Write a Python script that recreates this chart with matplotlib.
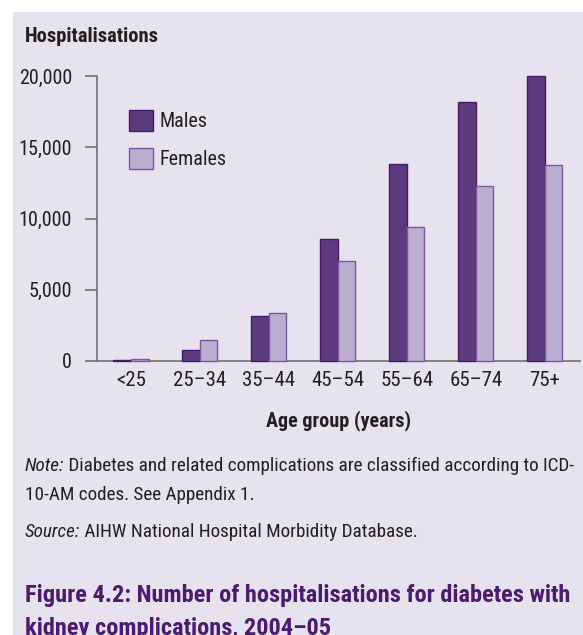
import matplotlib
matplotlib.use('Agg')
import matplotlib.pyplot as plt
from matplotlib import font_manager
from matplotlib.patches import Rectangle, Patch
import numpy as np

# Data
age_groups = ['<25', '25–34', '35–44', '45–54', '55–64', '65–74', '75+']
males = [80, 790, 3190, 8550, 13830, 18200, 19980]
females = [160, 1500, 3350, 7050, 9420, 12280, 13730]
y_ticks = [0, 5000, 10000, 15000, 20000]

# Pick a narrow font if there is one
font = 'DejaVu Sans'
for name in ['Liberation Sans Narrow', 'Roboto Condensed', 'Open Sans Condensed']:
    try:
        font_manager.findfont(font_manager.FontProperties(family=name), fallback_to_default=False)
        font = name
        break
    except Exception:
        pass
plt.rcParams['font.family'] = [font, 'DejaVu Sans']

bg = '#e6e2ee'
male_color = '#5c3b7d'
male_edge = '#46196b'
female_color = '#b9aed0'
female_edge = '#7c56a3'
text_color = '#231f20'
title_color = '#4b1a72'
axis_color = '#707070'

W, H = 583, 635
fig = plt.figure(figsize=(W / 100, H / 100), dpi=100, facecolor='white')
fig.patches.append(Rectangle((13 / W, 0), 1 - 13 / W, 1 - 12 / H, transform=fig.transFigure,
                             facecolor=bg, edgecolor='none', zorder=-10))

ax = fig.add_axes([97 / W, 1 - 361 / H, (580 - 97) / W, (361 - 76) / H])
ax.set_facecolor('none')

x = np.arange(len(age_groups))
width = 0.254
ax.bar(x - width / 2, males, width, color=male_color, edgecolor=male_edge, linewidth=1.0,
       label='Males', clip_on=False, zorder=3)
ax.bar(x + width / 2, females, width, color=female_color, edgecolor=female_edge, linewidth=1.0,
       label='Females', clip_on=False, zorder=3)

ax.set_xlim(-0.493, 6.51)
ax.set_ylim(0, 20000)
ax.set_yticks(y_ticks)
ax.set_yticklabels([f'{v:,}' for v in y_ticks])
ax.set_xticks(x)
ax.set_xticklabels(age_groups)
ax.tick_params(axis='y', direction='out', length=9, width=1.2, color=axis_color,
               labelsize=14.5, labelcolor=text_color, pad=9)
ax.tick_params(axis='x', length=0, labelsize=15, labelcolor=text_color, pad=7)

for spine in ['top', 'right']:
    ax.spines[spine].set_visible(False)
for spine in ['left', 'bottom']:
    ax.spines[spine].set_color(axis_color)
    ax.spines[spine].set_linewidth(1.2)

ax.set_xlabel('Age group (years)', fontsize=14.5, fontweight='bold', color=text_color, labelpad=15)

handles = [Patch(facecolor=male_color, edgecolor=male_edge, label='Males'),
           Patch(facecolor=female_color, edgecolor=female_edge, label='Females')]
ax.legend(handles=handles, loc='upper left', bbox_to_anchor=(129 / W, 1 - 110 / H),
          bbox_transform=fig.transFigure, frameon=False, fontsize=14.5, borderpad=0,
          borderaxespad=0, handlelength=1.2, handleheight=1.25, handletextpad=0.3,
          labelspacing=0.8, labelcolor=text_color)

fig.text(25 / W, 1 - 37 / H, 'Hospitalisations', fontsize=14.8, fontweight='bold',
         color=text_color, ha='left', va='center')

# Note and source lines with italic lead-ins
def lead_line(y, lead, rest):
    t = fig.text(25 / W, 1 - y / H, lead, fontsize=13.8, fontstyle='italic',
                 color=text_color, ha='left', va='baseline')
    ax.annotate(' ' + rest, xy=(1, 0), xycoords=t, fontsize=13.8, color=text_color,
                ha='left', va='bottom', annotation_clip=False)

lead_line(471, 'Note:', 'Diabetes and related complications are classified according to ICD-')
fig.text(25 / W, 1 - 500 / H, '10-AM codes. See Appendix 1.', fontsize=13.8,
         color=text_color, ha='left', va='baseline')
lead_line(537, 'Source:', 'AIHW National Hospital Morbidity Database.')

fig.text(25 / W, 1 - 602 / H, 'Figure 4.2: Number of hospitalisations for diabetes with',
         fontsize=17.6, fontweight='bold', color=title_color, ha='left', va='baseline')
fig.text(25 / W, 1 - 635 / H, 'kidney complications, 2004–05',
         fontsize=17.6, fontweight='bold', color=title_color, ha='left', va='baseline')

fig.savefig('out.png', dpi=100, facecolor='white')
